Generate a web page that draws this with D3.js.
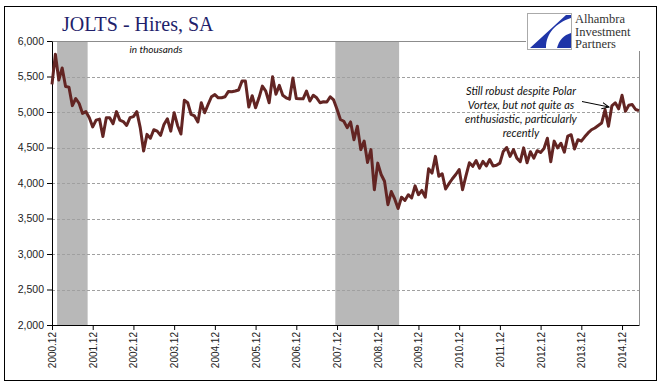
<!DOCTYPE html>
<html>
<head>
<meta charset="utf-8">
<script src="https://cdn.jsdelivr.net/npm/d3@7/dist/d3.min.js"></script>
<style>
  body { margin: 0; background: #fff; }
</style>
</head>
<body>
<script>
// JOLTS hires, SA, in thousands; monthly from 2000.12
const hires = [
  5390, 5815, 5450, 5620, 5360, 5350, 5090, 5190, 5120, 4980, 5005, 4920,
  4790, 4885, 4900, 4655, 4920, 4920, 4835, 5005, 4885, 4865, 4810, 4920,
  4935, 5005, 4780, 4450, 4685, 4630, 4750, 4730, 4670, 4825, 4905, 4730,
  4990, 4810, 4690, 5165, 5130, 4965, 4945, 4860, 5130, 4990, 5105, 5215,
  5245, 5200, 5200, 5215, 5290, 5285, 5295, 5310, 5435, 5435, 5070, 5230,
  5060, 5200, 5365, 5295, 5130, 5495, 5250, 5375, 5235, 5200, 5180, 5480,
  5190, 5185, 5185, 5295, 5155, 5235, 5200, 5130, 5145, 5140, 5215, 5170,
  5040, 4895, 4870, 4780, 4860, 4610, 4800, 4470, 4590, 4290, 4470, 3905,
  4280, 4120, 4025, 3695, 3880, 3775, 3640, 3800, 3755, 3835, 3790, 3960,
  3835, 3895, 3800, 4200, 4140, 4375, 4095, 4130, 3915, 3990, 4060, 4120,
  4190, 3905, 4100, 4285, 4235, 4315, 4210, 4305, 4240, 4330, 4240, 4250,
  4280, 4445, 4500, 4375, 4470, 4350, 4300, 4495, 4285, 4440, 4350, 4455,
  4430, 4485, 4630, 4300, 4590, 4495, 4560, 4435, 4660, 4680, 4480, 4610,
  4590, 4650, 4705, 4750, 4775, 4810, 4845, 5035, 4800, 5085, 5130, 5045,
  5235, 5010, 5095, 5105, 5035, 5020
]

const yearTicks = ['2000.12', '2001.12', '2002.12', '2003.12', '2004.12', '2005.12', '2006.12',
  '2007.12', '2008.12', '2009.12', '2010.12', '2011.12', '2012.12', '2013.12', '2014.12']
const yTicks = [2000, 2500, 3000, 3500, 4000, 4500, 5000, 5500, 6000]

// recession spans, in months since 2000.12
const recessions = [[1.5, 10.5], [83.5, 102.3]]

const title = 'JOLTS - Hires, SA'
const unitNote = 'in thousands'
const noteLines = ['Still robust despite Polar', 'Vortex, but not quite as', 'enthusiastic, particularly', 'recently']
const logoLines = ['Alhambra', 'Investment', 'Partners']

const W = 669
const H = 392
const margin = { top: 41, left: 52 }
const width = 639 - 52
const height = 325 - 41

const svg = d3.select('body').append('svg').attr('width', W).attr('height', H)

// outer frame
svg.append('rect')
  .attr('x', 4.5).attr('y', 6.5)
  .attr('width', 652).attr('height', 374)
  .attr('fill', '#fff')
  .attr('stroke', '#000')

const g = svg.append('g').attr('transform', `translate(${margin.left},${margin.top})`)

const x = d3.scaleLinear().domain([0, hires.length - 1]).range([0, width])
const y = d3.scaleLinear().domain([2000, 6000]).range([height, 0])

// recession bands
recessions.forEach(([a, b]) => {
  g.append('rect')
    .attr('x', x(a))
    .attr('y', 0)
    .attr('width', x(b) - x(a))
    .attr('height', height)
    .attr('fill', '#b8b8b8')
})

// gridlines
g.selectAll('.grid')
  .data(yTicks.filter((d) => d > 2000 && d < 6000))
  .enter()
  .append('line')
  .attr('x1', 0).attr('x2', width)
  .attr('y1', (d) => Math.round(y(d)) + 0.5)
  .attr('y2', (d) => Math.round(y(d)) + 0.5)
  .attr('stroke', '#a0a0a0')
  .attr('stroke-dasharray', '3,2')

// plot area border (top + right)
g.append('path')
  .attr('d', `M0,0.5H${width + 0.5}V${height}`)
  .attr('fill', 'none')
  .attr('stroke', '#8c8c8c')

// axes
const yAxis = g.append('g')
  .call(d3.axisLeft(y).tickValues(yTicks).tickFormat(d3.format(',')).tickSize(5).tickPadding(3).tickSizeOuter(0))
yAxis.selectAll('text').attr('font-family', 'Liberation Sans, Arial, sans-serif').attr('font-size', 10.5).attr('fill', '#222')

const xAxis = g.append('g')
  .attr('transform', `translate(0,${height})`)
  .call(d3.axisBottom(x).tickValues(yearTicks.map((d, i) => i * 12)).tickFormat((d, i) => yearTicks[i]).tickSize(5).tickSizeOuter(0))
xAxis.selectAll('text')
  .attr('transform', 'rotate(-90)')
  .attr('x', -7)
  .attr('y', 0)
  .attr('dy', '0.35em')
  .style('text-anchor', 'end')
  .attr('font-family', 'Liberation Sans, Arial, sans-serif')
  .attr('font-size', 10)
  .attr('fill', '#222')
svg.selectAll('.domain').attr('stroke', '#000')

// hires line
const line = d3.line()
  .x((d, i) => x(i))
  .y((d) => y(d))
g.append('path')
  .datum(hires)
  .attr('fill', 'none')
  .attr('stroke', '#632523')
  .attr('stroke-width', 3)
  .attr('stroke-linejoin', 'round')
  .attr('d', line)

// title + unit
svg.append('text')
  .attr('x', 62).attr('y', 31)
  .attr('font-family', 'Liberation Serif, Times New Roman, serif')
  .attr('font-size', 20)
  .attr('fill', '#1f1f6b')
  .text(title)

svg.append('text')
  .attr('x', 156).attr('y', 53)
  .attr('text-anchor', 'middle')
  .attr('font-family', 'Lato, Open Sans, sans-serif')
  .attr('font-style', 'italic')
  .attr('font-size', 10)
  .attr('fill', '#111')
  .text(unitNote)

// annotation
const note = svg.append('text')
  .attr('font-family', 'Lato, Open Sans, sans-serif')
  .attr('font-style', 'italic')
  .attr('font-size', 11)
  .attr('fill', '#111')
  .attr('text-anchor', 'middle')
note.selectAll('tspan')
  .data(noteLines)
  .enter()
  .append('tspan')
  .attr('x', 521)
  .attr('y', (d, i) => 95 + i * 14)
  .text((d) => d)

svg.append('defs').append('marker')
  .attr('id', 'arr')
  .attr('viewBox', '0 0 10 10')
  .attr('refX', 9).attr('refY', 5)
  .attr('markerWidth', 8).attr('markerHeight', 8)
  .attr('orient', 'auto')
  .append('path')
  .attr('d', 'M0,1L9,5L0,9')
  .attr('fill', 'none')
  .attr('stroke', '#000')
  .attr('stroke-width', 1.2)
svg.append('line')
  .attr('x1', 582).attr('y1', 101.5)
  .attr('x2', 609).attr('y2', 107)
  .attr('stroke', '#000')
  .attr('stroke-width', 1)
  .attr('marker-end', 'url(#arr)')

// logo
svg.append('rect').attr('x', 526).attr('y', 9).attr('width', 122).attr('height', 42).attr('fill', '#fff')
svg.append('rect')
  .attr('x', 527.5).attr('y', 13.5).attr('width', 44).attr('height', 36)
  .attr('fill', '#fff').attr('stroke', '#aaa')
svg.append('path')
  .attr('d', 'M530,48L566,15L571,15L571,18C556,23 546,33 546,48Z')
  .attr('fill', '#1f35a8')
svg.append('path')
  .attr('d', 'M557,48C559,40 564,35 571,33L571,48Z')
  .attr('fill', '#1f35a8')
const logo = svg.append('text')
  .attr('font-family', 'Liberation Serif, Times New Roman, serif')
  .attr('font-size', 12.5)
  .attr('fill', '#333')
logo.selectAll('tspan')
  .data(logoLines)
  .enter()
  .append('tspan')
  .attr('x', 575)
  .attr('y', (d, i) => 23 + i * 12.5)
  .text((d) => d)
</script>
</body>
</html>
